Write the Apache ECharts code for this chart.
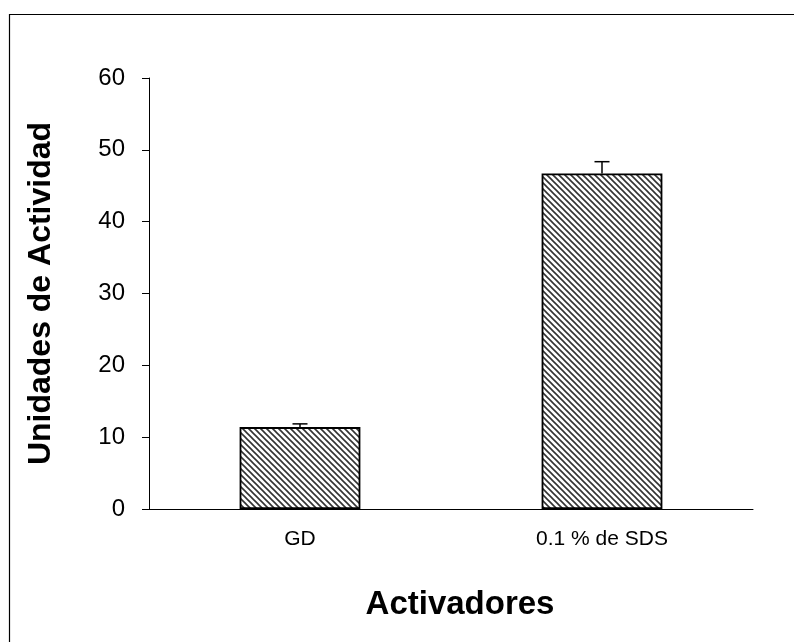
<!DOCTYPE html>
<html><head><meta charset="utf-8">
<script src="https://cdn.jsdelivr.net/npm/echarts@6/dist/echarts.min.js"></script>
<style>html,body{margin:0;padding:0;background:#fff}#c{width:794px;height:642px}</style>
</head><body><div id="c"></div>
<script>
const categories = ['GD', '0.1 % de SDS'];
const values = [11.4, 46.7];
const errors = [0.45, 1.65];
const yTicks = [0, 10, 20, 30, 40, 50, 60];
const xTitle = 'Activadores';
const yTitle = 'Unidades de Actividad';

function hatch() {
  const s = 6, c = document.createElement('canvas');
  c.width = s; c.height = s;
  const g = c.getContext('2d');
  g.fillStyle = '#fff'; g.fillRect(0, 0, s, s);
  g.strokeStyle = '#333'; g.lineWidth = 1.6;
  g.beginPath();
  g.moveTo(-s, -s); g.lineTo(2 * s, 2 * s);
  g.moveTo(-s, 0); g.lineTo(s, 2 * s);
  g.moveTo(0, -s); g.lineTo(2 * s, s);
  g.stroke();
  return c;
}

const chart = echarts.init(document.getElementById('c'), null, {renderer: 'canvas'});
chart.setOption({
  animation: false,
  backgroundColor: '#fff',
  grid: {left: 149, right: 41, top: 78, bottom: 133},
  graphic: [
    {type: 'rect', shape: {x: 9.5, y: 14.5, width: 900, height: 800}, style: {fill: 'none', stroke: '#000', lineWidth: 1.2}, z: -1},
    {type: 'text', x: 460, y: 605, style: {text: xTitle, font: 'bold 33px "Liberation Sans"', fill: '#000', textAlign: 'center', textVerticalAlign: 'middle'}},
    {type: 'text', x: 41, y: 293.5, rotation: Math.PI / 2, style: {text: yTitle, font: 'bold 32px "Liberation Sans"', fill: '#000', textAlign: 'center', textVerticalAlign: 'middle'}}
  ],
  xAxis: {
    type: 'category', data: categories,
    axisLine: {lineStyle: {color: '#000', width: 1}},
    axisTick: {length: 7, lineStyle: {color: '#000'}},
    axisLabel: {fontFamily: 'Liberation Sans', fontSize: 21, color: '#000', margin: 20}
  },
  yAxis: {
    type: 'value', min: 0, max: 60, interval: 10,
    axisLine: {show: true, lineStyle: {color: '#000', width: 1}},
    axisTick: {show: true, length: 7, lineStyle: {color: '#000'}},
    splitLine: {show: false},
    axisLabel: {fontFamily: 'Liberation Sans', fontSize: 24, color: '#000', margin: 24,
      formatter: v => yTicks.includes(v) ? String(v) : ''}
  },
  series: [
    {type: 'bar', data: values, barWidth: '40%',
      itemStyle: {color: {image: hatch(), repeat: 'repeat'}, borderColor: '#000', borderWidth: 1.8}},
    {type: 'custom', data: values.map((v, i) => [i, v, errors[i]]), z: 5,
      renderItem: (params, api) => {
        const i = api.value(0), v = api.value(1), e = api.value(2);
        const p0 = api.coord([i, v]), p1 = api.coord([i, v + e]);
        const hw = 7.5;
        return {type: 'group', children: [
          {type: 'line', shape: {x1: p0[0], y1: p0[1], x2: p1[0], y2: p1[1]}, style: {stroke: '#000', lineWidth: 1.5}},
          {type: 'line', shape: {x1: p1[0] - hw, y1: p1[1], x2: p1[0] + hw, y2: p1[1]}, style: {stroke: '#000', lineWidth: 1.5}}
        ]};
      }}
  ]
});
</script></body></html>
